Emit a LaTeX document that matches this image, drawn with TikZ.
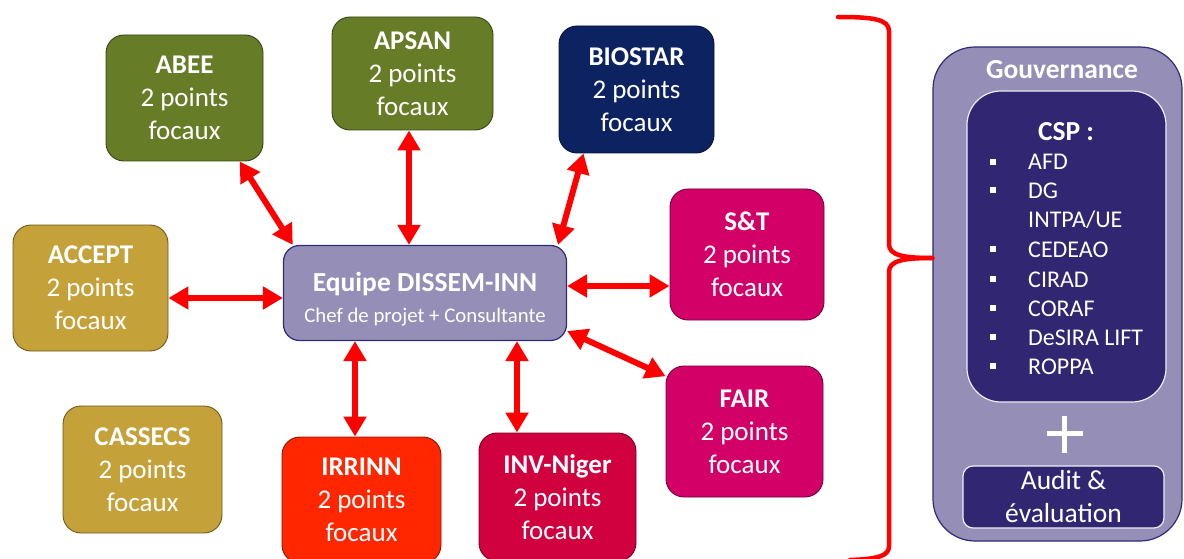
\documentclass[tikz,border=0pt]{standalone}
\usepackage{fontspec}
\setmainfont{Carlito}
\usetikzlibrary{arrows.meta}
\definecolor{cgreen}{HTML}{667C27}
\definecolor{cnavy}{HTML}{0D2260}
\definecolor{cgold}{HTML}{C5A13A}
\definecolor{cmag}{HTML}{D20067}
\definecolor{cred}{HTML}{FF2600}
\definecolor{ccrim}{HTML}{D1003F}
\definecolor{clav}{HTML}{958EB6}
\definecolor{cindigo}{HTML}{302672}
\definecolor{cedge}{HTML}{2E2A7A}
\tikzset{
  focal/.style={rectangle, rounded corners=18pt, line width=0.9pt, text=white, align=center,
    font=\fontsize{27}{33}\selectfont, inner sep=0pt, draw=#1!55!black, fill=#1},
  link/.style={draw=red, line width=6pt, {Triangle[length=20pt,width=22pt]}-{Triangle[length=20pt,width=22pt]}},
  brace/.style={draw=red, line width=4.5pt, line cap=round},
  item/.style={anchor=base west, text=white, font=\fontsize{24}{28}\selectfont, inner sep=0pt},
  bullet/.style={rectangle, fill=white, minimum size=5.5pt, inner sep=0pt}
}
\begin{document}
\begin{tikzpicture}[x=1pt,y=-1pt]
\useasboundingbox (0,0) rectangle (1184,559);
\clip (0,0) rectangle (1184,559);

% focal point boxes
\node[focal=cgreen, minimum width=157pt, minimum height=126pt] (abee) at (184.5,98) {\textbf{ABEE}\\2 points\\focaux};
\node[focal=cgreen, minimum width=161pt, minimum height=113pt] (apsan) at (412.5,73.5) {\textbf{APSAN}\\2 points\\focaux};
\node[focal=cnavy, minimum width=155pt, minimum height=127pt] (biostar) at (636.5,89.5) {\textbf{BIOSTAR}\\2 points\\focaux};
\node[focal=cgold, minimum width=155pt, minimum height=126pt] (accept) at (90.5,288) {\textbf{ACCEPT}\\2 points\\focaux};
\node[focal=cmag, minimum width=154pt, minimum height=131pt] (st) at (747,254.5) {\textbf{S\&T}\\2 points\\focaux};
\node[focal=cmag, minimum width=157pt, minimum height=131pt] (fair) at (744.5,431.5) {\textbf{FAIR}\\2 points\\focaux};
\node[focal=cgold, minimum width=159pt, minimum height=127pt] (cassecs) at (142.5,469.5) {\textbf{CASSECS}\\2 points\\focaux};
\node[focal=cred, minimum width=159pt, minimum height=126pt] (irrinn) at (361.5,500) {\textbf{IRRINN}\\2 points\\focaux};
\node[focal=ccrim, minimum width=157pt, minimum height=128pt] (inv) at (557.5,497) {\textbf{INV-Niger}\\2 points\\focaux};

% central team
\node[rectangle, rounded corners=16pt, draw=cedge, line width=1.2pt, fill=clav,
  minimum width=283pt, minimum height=95pt, inner sep=0pt] (center) at (425,293) {};
\node[text=white, align=center, inner sep=0pt, font=\fontsize{21}{31}\selectfont] (centert) at (425,299)
  {{\fontsize{27.5}{31}\selectfont\bfseries Equipe DISSEM-INN}\\{\fontsize{20.8}{31}\selectfont Chef de projet + Consultante}};

% connectors
\draw[link] (abee.-49) -- (center.160);
\draw[link] ([xshift=-3.5pt]apsan.south) -- ([xshift=-16pt]center.north);
\draw[link] ([xshift=-53pt]biostar.south) -- ([xshift=133pt]center.north);
\draw[link] ([yshift=-10pt]accept.east) -- ([yshift=-5pt]center.west);
\draw[link] ([yshift=7pt]center.east) -- ([yshift=-31.5pt]st.west);
\draw[link] (center.-15.5) -- (fair.145.4);
\draw[link] ([xshift=-70pt]center.south) -- ([xshift=-6.5pt]irrinn.north);
\draw[link] ([xshift=92pt]center.south) -- ([xshift=-40.5pt]inv.north);

% governance panel
\node[rectangle, rounded corners=42pt, draw=cedge, line width=1.2pt, fill=clav,
  minimum width=249pt, minimum height=494pt, inner sep=0pt] (gov) at (1057.5,294) {};
\node[text=white, font=\fontsize{27.5}{30}\selectfont\bfseries] (govt) at (1062,70) {Gouvernance};
\node[rectangle, rounded corners=34pt, draw=white!85!clav, line width=1.2pt, fill=cindigo,
  minimum width=199pt, minimum height=311pt, inner sep=0pt] (csp) at (1066.5,246.5) {};
\node[text=white, font=\fontsize{27.5}{30}\selectfont\bfseries] (cspt) at (1066,132) {CSP :};
\foreach \name/\txt/\yb/\bul in {i1/AFD/170/1, i2/DG/198/1, i3/INTPA\slash UE/227/0, i4/CEDEAO/257/1,
  i5/CIRAD/287/1, i6/CORAF/316/1, i7/DeSIRA LIFT/345/1, i8/ROPPA/374/1}{
  \node[item] (\name) at (1028,\yb) {\txt};
  \ifnum\bul=1 \node[bullet] (b\name) at (993,\yb-8) {};\fi
}
\draw[white, line width=5pt] (1047,433) -- (1083,433);
\draw[white, line width=5pt] (1064,416) -- (1064,453);
\node[rectangle, rounded corners=10pt, draw=white!85!clav, line width=1.2pt, fill=cindigo, text=white,
  align=center, font=\fontsize{27.5}{33}\selectfont, minimum width=201pt, minimum height=62pt, inner sep=0pt]
  (audit) at (1063.5,497) {Audit \&\\évaluation};

% brace
\coordinate (btip) at (gov.west |- 0,258);
\draw[brace] (838,17) .. controls (872,17) and (889,19) .. (889,31) -- (889,244)
  .. controls (889,255) and (902,258) .. (btip);
\draw[brace] (btip) .. controls (902,258) and (889,261) .. (889,272) -- (889,546)
  .. controls (889,556) and (878,559) .. (850,560);
\end{tikzpicture}
\end{document}
